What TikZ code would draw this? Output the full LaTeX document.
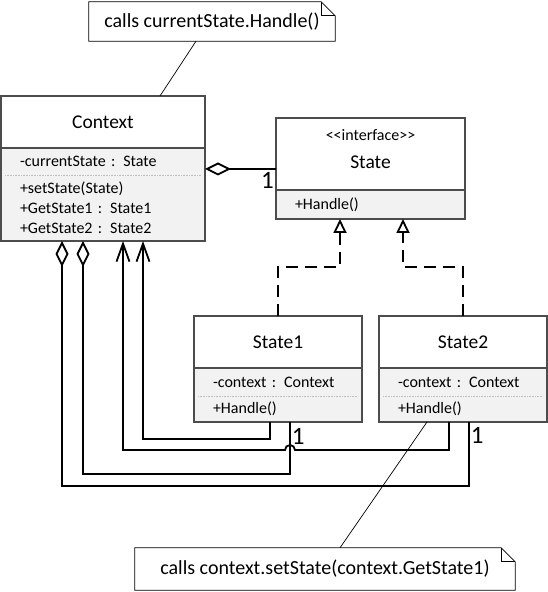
\documentclass[tikz,border=0pt]{standalone}
\usepackage{fontspec}
\setmainfont{Carlito}
\usetikzlibrary{positioning,arrows.meta}

\begin{document}
\begin{tikzpicture}[
  x=1pt,
  y=1pt,
  classhead/.style={
    rectangle,
    draw=black!70,
    line width=1.2pt,
    fill=white,
    outer sep=0pt,
    inner sep=0pt,
    align=center,
    font=\fontsize{19.5}{22}\selectfont
  },
  classbox/.style={
    rectangle,
    fill=black!5,
    outer sep=0pt,
    inner xsep=19pt,
    inner ysep=0pt,
    align=left,
    font=\fontsize{16}{20}\selectfont
  },
  frameline/.style={
    draw=black!70,
    line width=1.2pt
  },
  sepline/.style={
    draw=black!25,
    line width=0.6pt,
    densely dotted
  },
  noteline/.style={
    draw=black,
    line width=0.8pt
  },
  notebox/.style={
    inner sep=0pt,
    font=\fontsize{20}{24}\selectfont,
    append after command={
      \pgfextra{
        \draw[noteline] (\tikzlastnode.north west)
          -- ([xshift=-14pt]\tikzlastnode.north east)
          -- ([yshift=-14pt]\tikzlastnode.north east)
          -- (\tikzlastnode.south east)
          -- (\tikzlastnode.south west) -- cycle;
        \draw[noteline] ([xshift=-14pt]\tikzlastnode.north east)
          |- ([yshift=-14pt]\tikzlastnode.north east);
      }}
  },
  notelink/.style={
    draw=black,
    line width=0.7pt
  },
  assoc/.style={
    draw=black,
    line width=1.8pt
  },
  aggr/.style={
    assoc,
    -{Diamond[open,length=26pt,width=13pt]}
  },
  navig/.style={
    assoc,
    -{Straight Barb[length=18pt,width=13pt]}
  },
  realize/.style={
    assoc,
    dash pattern=on 12pt off 7pt,
    -{Triangle[open,length=14pt,width=13pt]}
  },
  mult/.style={
    inner sep=1pt,
    font=\fontsize{25}{27}\selectfont
  }]
  \useasboundingbox (0,0) rectangle (548,592);

  % Context
  \node[classhead, minimum width=204pt, minimum height=52pt] (ctxhead) at (103,470) {Context};
  \node[classbox, text width=166pt, minimum height=27pt, below=0pt of ctxhead] (ctxattr) {-currentState : State};
  \node[classbox, text width=166pt, minimum height=66pt, below=0pt of ctxattr] (ctxops) {+setState(State)\\+GetState1 : State1\\+GetState2 : State2};
  \draw[frameline] (ctxhead.south west) rectangle (ctxops.south east);
  \draw[sepline] ([xshift=4pt]ctxattr.south west) -- ([xshift=-4pt]ctxattr.south east);

  % State
  \node[classhead, minimum width=189pt, minimum height=72pt] (statehead) at (370.5,438)
    {{\fontsize{16}{18}\selectfont <\kern0pt<interface>\kern0pt>}\\[6pt]State\\[-12pt]};
  \node[classbox, text width=151pt, minimum height=29pt, below=0pt of statehead] (stateops) {+Handle()};
  \draw[frameline] (statehead.south west) rectangle (stateops.south east);

  % State1
  \node[classhead, minimum width=168pt, minimum height=52pt] (s1head) at (278,250) {State1};
  \node[classbox, text width=130pt, minimum height=28pt, below=0pt of s1head] (s1attr) {-context : Context};
  \node[classbox, text width=130pt, minimum height=26pt, below=0pt of s1attr] (s1ops) {+Handle()};
  \draw[frameline] (s1head.south west) rectangle (s1ops.south east);
  \draw[sepline] ([xshift=4pt]s1attr.south west) -- ([xshift=-4pt]s1attr.south east);

  % State2
  \node[classhead, minimum width=168pt, minimum height=52pt] (s2head) at (463,250) {State2};
  \node[classbox, text width=130pt, minimum height=28pt, below=0pt of s2head] (s2attr) {-context : Context};
  \node[classbox, text width=130pt, minimum height=26pt, below=0pt of s2attr] (s2ops) {+Handle()};
  \draw[frameline] (s2head.south west) rectangle (s2ops.south east);
  \draw[sepline] ([xshift=4pt]s2attr.south west) -- ([xshift=-4pt]s2attr.south east);

  % notes
  \node[notebox, minimum width=246pt, minimum height=39pt] (note1) at (212,570.5) {calls currentState.Handle()};
  \node[notebox, minimum width=380pt, minimum height=42pt] (note2) at (325,23) {calls context.setState(context.GetState1)};
  \draw[notelink] ([xshift=-16pt]note1.south) -- ([xshift=57pt]ctxhead.north);
  \draw[notelink] ([xshift=15pt]note2.north) -- ([xshift=-36pt]s2ops.south);

  % associations
  \draw[aggr] ([yshift=-15pt]statehead.west) -- node[mult, below=2pt, pos=0.12] {1} ++(-71,0);
  \draw[realize] (s1head.north) -- ++(0,49) -| ([xshift=-30.5pt]stateops.south);
  \draw[realize] (s2head.north) -- ++(0,49) -| ([xshift=32.5pt]stateops.south);
  \draw[navig] ([xshift=-8pt]s1ops.south) -- ++(0,-17) -| ([xshift=40pt]ctxops.south);
  \draw[navig] ([xshift=-14pt]s2ops.south) -- ++(0,-28) -- ++(-154,0)
    arc[start angle=0, end angle=180, radius=5pt] -| ([xshift=20pt]ctxops.south);
  \draw[aggr] ([xshift=12pt]s1ops.south) -- node[mult, right, pos=0.27] {1} ++(0,-52) -| ([xshift=-20pt]ctxops.south);
  \draw[aggr] ([xshift=6pt]s2ops.south) -- node[mult, right, pos=0.21] {1} ++(0,-64) -| ([xshift=-41pt]ctxops.south);
\end{tikzpicture}
\end{document}
